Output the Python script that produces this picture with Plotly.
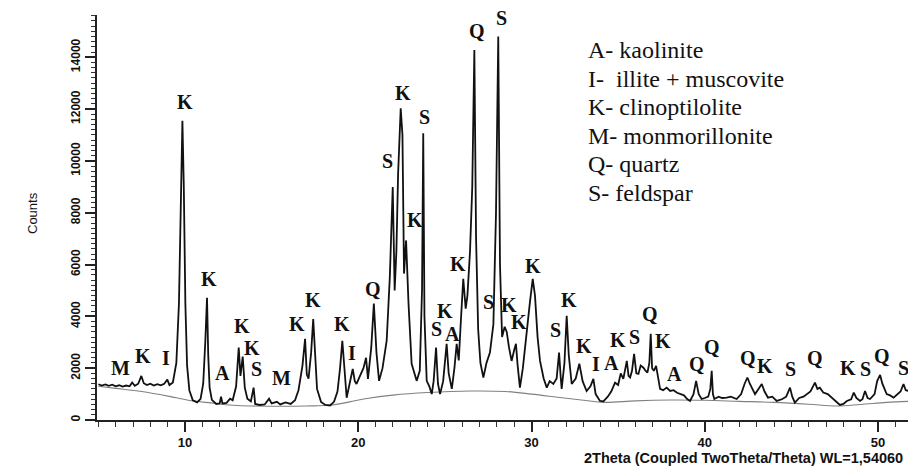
import plotly.graph_objects as go

# ---- data ----
two_theta = [
    5.00, 5.20, 5.40, 5.60, 5.80, 6.00, 6.20, 6.40, 6.60, 6.80, 6.95, 7.10, 7.30, 7.48, 7.62, 7.80,
    8.00, 8.20, 8.40, 8.60, 8.80, 8.98, 9.10, 9.30, 9.50, 9.65, 9.75, 9.85, 9.93, 10.02, 10.12, 10.25,
    10.45, 10.70, 10.90, 11.05, 11.17, 11.27, 11.34, 11.42, 11.55, 11.80, 12.00, 12.08, 12.16, 12.40,
    12.60, 12.75, 12.95, 13.10, 13.20, 13.33, 13.45, 13.60, 13.80, 13.90, 13.96, 14.05, 14.30, 14.60,
    14.85, 15.00, 15.30, 15.50, 15.80, 16.10, 16.35, 16.55, 16.78, 16.93, 17.03, 17.13, 17.28, 17.40,
    17.50, 17.62, 17.85, 18.10, 18.37, 18.60, 18.80, 18.95, 19.08, 19.20, 19.33, 19.50, 19.68, 19.80,
    19.90, 20.10, 20.30, 20.45, 20.56, 20.75, 20.90, 21.05, 21.20, 21.40, 21.64, 21.82, 21.99, 22.10,
    22.20, 22.30, 22.45, 22.55, 22.64, 22.76, 22.90, 23.08, 23.25, 23.37, 23.55, 23.68, 23.75, 23.82,
    23.95, 24.10, 24.24, 24.35, 24.49, 24.60, 24.72, 24.90, 25.10, 25.22, 25.40, 25.55, 25.68, 25.80,
    25.92, 26.06, 26.20, 26.30, 26.45, 26.58, 26.70, 26.80, 26.92, 27.05, 27.22, 27.40, 27.60, 27.80,
    27.95, 28.08, 28.18, 28.30, 28.45, 28.57, 28.70, 28.85, 29.00, 29.10, 29.20, 29.33, 29.50, 29.70,
    29.90, 30.07, 30.20, 30.35, 30.49, 30.70, 30.88, 31.05, 31.26, 31.45, 31.59, 31.68, 31.74, 31.90,
    32.03, 32.15, 32.32, 32.55, 32.76, 32.95, 33.18, 33.40, 33.57, 33.70, 33.95, 34.15, 34.40, 34.60,
    34.82, 35.00, 35.15, 35.30, 35.50, 35.60, 35.69, 35.80, 35.92, 36.05, 36.17, 36.30, 36.46, 36.58,
    36.69, 36.80, 36.88, 36.96, 37.06, 37.19, 37.30, 37.42, 37.60, 37.80, 38.00, 38.20, 38.40, 38.57,
    38.80, 39.00, 39.15, 39.35, 39.50, 39.65, 39.82, 40.00, 40.20, 40.32, 40.40, 40.47, 40.55, 40.80,
    41.00, 41.27, 41.50, 41.84, 42.10, 42.30, 42.46, 42.60, 42.75, 42.90, 43.10, 43.29, 43.45, 43.65,
    43.90, 44.15, 44.45, 44.70, 44.92, 45.05, 45.20, 45.45, 45.70, 45.88, 46.10, 46.36, 46.50, 46.64,
    46.84, 47.10, 47.33, 47.55, 47.80, 48.00, 48.20, 48.45, 48.60, 48.75, 48.96, 49.10, 49.25, 49.40,
    49.54, 49.80, 49.95, 50.12, 50.25, 50.50, 50.70, 50.90, 51.15, 51.30, 51.47, 51.60, 51.80,
]
counts = [
    1380, 1330, 1370, 1320, 1360, 1300, 1340, 1290, 1330, 1300, 1450, 1320, 1400, 1700, 1420, 1350,
    1400, 1330, 1380, 1340, 1400, 1560, 1350, 1450, 2200, 4500, 8000, 11550, 9000, 4500, 2100, 1150,
    760, 680, 820, 1400, 3000, 4720, 2500, 1250, 780, 620, 640, 900, 640, 660,
    820, 760, 1300, 2800, 1700, 2450, 1250, 820, 720, 1050, 1250, 620, 580, 600,
    820, 640, 700, 600, 680, 620, 760, 1150, 2100, 3130, 1750, 1600, 2600, 3900,
    2500, 1200, 700, 580, 560, 700, 1100, 2000, 3060, 1900, 860, 1400, 1970, 1500,
    1390, 1700, 2000, 2400, 1590, 2800, 4490, 2600, 1510, 2000, 3060, 5500, 8990, 5000,
    6500, 9500, 12030, 11000, 5650, 6930, 4500, 2170, 1800, 1510, 1900, 5000, 11070, 4000,
    1510, 1300, 1000, 1500, 2800, 1400, 1000, 1500, 2940, 1800, 1200, 2000, 2940, 2300,
    3800, 5450, 4300, 4800, 6500, 9000, 14280, 7000, 3500, 2200, 1640, 2200, 2600, 3700,
    8000, 14800, 6000, 3200, 3600, 3400, 2800, 2280, 2700, 2940, 2100, 1250, 2000, 3330,
    4500, 5450, 4800, 3200, 2280, 1600, 1250, 1500, 1390, 1600, 2600, 1700, 1200, 2200,
    4020, 2500, 1390, 1600, 2170, 1500, 1120, 1300, 1590, 1000, 735, 720, 900, 1100,
    1440, 1350, 1800, 1590, 2280, 1700, 1640, 1900, 2550, 1800, 1780, 2100, 2020, 1900,
    1830, 2200, 3330, 2000, 1900, 2090, 1700, 1200, 1150, 1250, 1120, 1150, 1050, 1000,
    950, 800, 735, 1000, 1510, 1000, 810, 850, 900, 1200, 1900, 1000, 810, 900,
    850, 860, 900, 810, 1000, 1400, 1640, 1400, 1200, 1000, 1200, 1390, 1100, 860,
    900, 735, 800, 900, 1250, 900, 670, 850, 900, 1000, 1100, 1440, 1200, 1250,
    1060, 1000, 860, 700, 580, 620, 735, 800, 1060, 850, 735, 800, 1120, 850,
    810, 1000, 1500, 1740, 1400, 1000, 950, 860, 1000, 1100, 1390, 1150, 1120,
]

bg_theta = [5, 6, 7.5, 9.5, 10.5, 11.5, 13, 15, 17, 18.5, 19.5, 20.5, 22, 24, 26.5, 28.5, 30, 31.5,
            33, 34.2, 36, 38, 40, 42, 44, 46, 47.6, 49, 50.5, 51.8]
bg_counts = [1300, 1220, 1100, 860, 730, 660, 560, 530, 540, 580, 700, 830, 960, 1060, 1120, 1100,
             1000, 880, 760, 680, 740, 770, 760, 720, 680, 610, 540, 600, 680, 720]

peak_letters = ["M", "K", "I", "K", "K", "A", "K", "K", "S", "M", "K", "K", "K", "I", "Q", "S", "K",
                "K", "S", "S", "K", "A", "K", "Q", "S", "S", "K", "K", "K", "S", "K", "K", "I", "A",
                "K", "S", "Q", "K", "A", "Q", "Q", "Q", "K", "S", "Q", "K", "S", "Q", "S"]
peak_theta = [6.25, 7.56, 8.90, 10.0, 11.40, 12.19, 13.27, 13.85, 14.10, 15.58, 16.45, 17.41, 19.08,
              19.66, 20.85, 21.69, 22.57, 23.28, 23.80, 24.53, 25.01, 25.43, 25.77, 26.84, 28.28,
              27.51, 28.70, 29.30, 30.10, 31.36, 32.16, 33.01, 33.72, 34.59, 35.01, 35.97, 36.84,
              37.61, 38.28, 39.53, 40.40, 42.51, 43.48, 44.92, 46.36, 48.29, 49.25, 50.21, 51.46]
peak_counts = [2012, 2477, 2400, 12268, 5457, 1819, 3638, 2786, 1974, 1625, 3715, 4644, 3715, 2593,
               5070, 10004, 12628, 7701, 11699, 3522, 4218, 3328, 6037, 15027, 15507, 4540, 4450,
               3780, 5960, 3483, 4625, 2844, 2148, 2187, 3077, 3212, 4102, 3030, 1780, 2156, 2825,
               2388, 2090, 1962, 2411, 2024, 1962, 2477, 2024]

legend_lines = ["A- kaolinite", "I-  illite + muscovite", "K- clinoptilolite",
                "M- monmorillonite", "Q- quartz", "S- feldspar"]

y_ticks = [0, 2000, 4000, 6000, 8000, 10000, 12000, 14000]
y_tick_text = ["0", "2000", "4000", "6000", "8000", "10000", "12000", "14000"]
x_ticks = [10, 20, 30, 40, 50]

# ---- figure ----
fig = go.Figure()
fig.add_trace(go.Scatter(x=bg_theta, y=bg_counts, mode="lines",
                         line=dict(color="#808080", width=1.1, shape="spline"),
                         hoverinfo="skip", showlegend=False))
fig.add_trace(go.Scatter(x=two_theta, y=counts, mode="lines",
                         line=dict(color="#111111", width=1.8),
                         showlegend=False))

serif = "Liberation Serif"
sans = "Liberation Sans"

for letter, xv, yv in zip(peak_letters, peak_theta, peak_counts):
    fig.add_annotation(x=xv, y=yv, xref="x", yref="y", text=letter, showarrow=False,
                       font=dict(family=serif, size=20, color="#111111", weight="bold"),
                       xanchor="center", yanchor="middle")

plot_left, plot_top, plot_bottom = 97, 15, 420
pw = 908 - plot_left
ph = plot_bottom - plot_top
for i, line in enumerate(legend_lines):
    py = 50 + i * 28.6
    fig.add_annotation(x=(586 - plot_left) / pw, y=(plot_bottom - py) / ph, xref="paper", yref="paper",
                       text=line, showarrow=False, xanchor="left", yanchor="middle",
                       font=dict(family=serif, size=24, color="#111111"))

fig.add_annotation(x=(905 - plot_left) / pw, y=(plot_bottom - 458) / ph, xref="paper", yref="paper",
                   text="2Theta (Coupled TwoTheta/Theta) WL=1,54060", showarrow=False,
                   xanchor="right", yanchor="middle",
                   font=dict(family=sans, size=14.5, color="#111111", weight="bold"))
fig.add_annotation(x=(32 - plot_left) / pw, y=(plot_bottom - 213) / ph, xref="paper", yref="paper",
                   text="Counts", showarrow=False, textangle=-90,
                   xanchor="center", yanchor="middle",
                   font=dict(family=sans, size=13, color="#111111"))

fig.update_layout(
    width=908, height=470,
    margin=dict(l=plot_left, r=0, t=plot_top, b=470 - plot_bottom, autoexpand=False),
    plot_bgcolor="white", paper_bgcolor="white",
    xaxis=dict(range=[4.92, 51.73], showline=True, linecolor="#222", linewidth=1.5,
               automargin=False, showgrid=False, zeroline=False, ticks="outside",
               tickvals=x_ticks, ticklen=10, tickwidth=1.5, tickcolor="#222",
               minor=dict(dtick=1, ticks="outside", ticklen=5, tickwidth=1.2, tickcolor="#333"),
               tickfont=dict(family=sans, size=13, color="#111", weight="bold")),
    yaxis=dict(range=[0, 15630], showline=True, linecolor="#222", linewidth=1.5,
               automargin=False, showgrid=False, zeroline=False, ticks="outside",
               tickvals=y_ticks, ticktext=y_tick_text,
               ticklen=10, tickwidth=1.5, tickcolor="#222", tickangle=-90,
               minor=dict(dtick=200, ticks="outside", ticklen=4, tickwidth=1, tickcolor="#333"),
               tickfont=dict(family=sans, size=12, color="#111", weight="bold")),
)

fig.write_html("out.html", config={"displayModeBar": False},
               post_script="document.body.style.margin='0';document.body.style.overflow='hidden';")
